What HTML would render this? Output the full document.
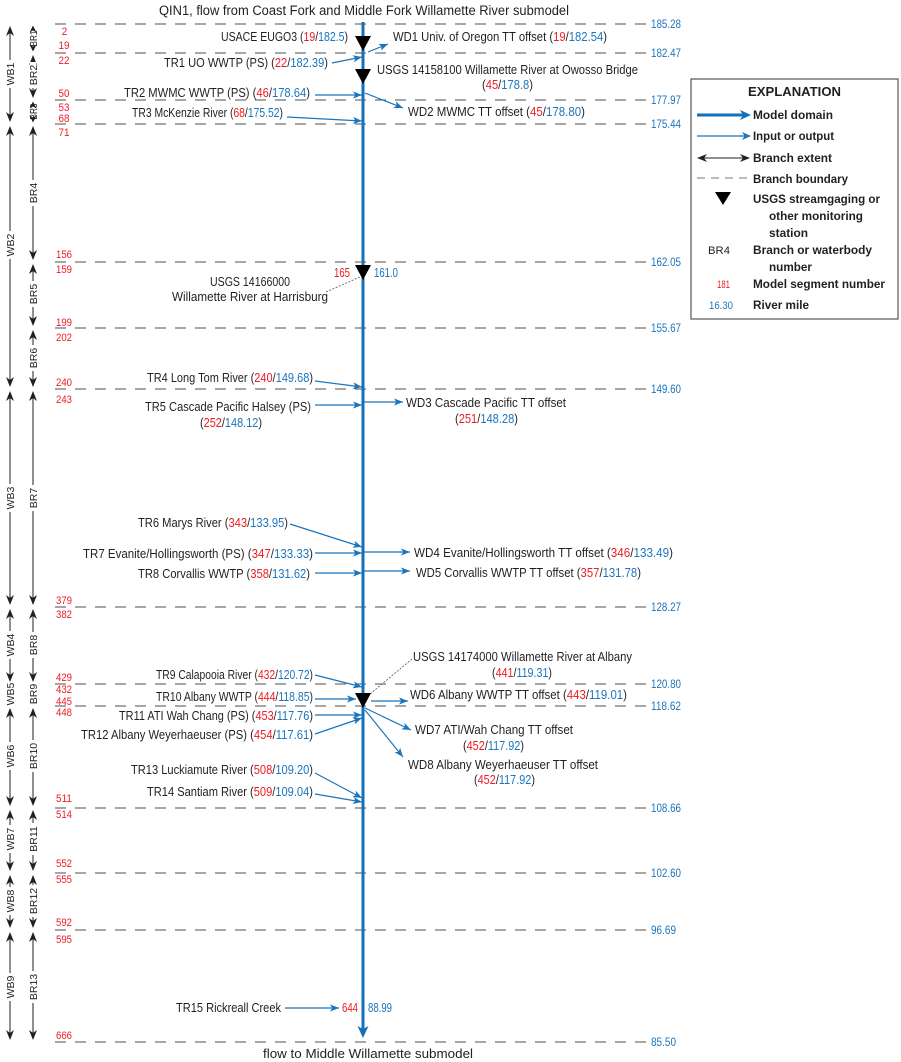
<!DOCTYPE html>
<html>
<head>
<meta charset="utf-8">
<style>
html,body{margin:0;padding:0;background:#fff;}
svg{display:block;}
text{font-family:"Liberation Sans",Arial,sans-serif;fill:#231f20;}
.t{font-size:12.5px;}
.n{font-size:11px;}
.n text, text.n{fill:#ed1c24;}
.m{font-size:11.5px;}
.m text, text.m{fill:#1b75bc;}
.r, text.r{fill:#ed1c24;}
.b, text.b{fill:#1b75bc;}
.lb{font-size:10.5px;}
.bold{font-weight:bold;font-size:12px;}
.dash{stroke:#4d4d4d;stroke-width:1;stroke-dasharray:11 9;}
.ba{stroke:#231f20;stroke-width:1;}
.ia{stroke:#1b75bc;stroke-width:1.2;fill:none;}
</style>
</head>
<body>
<svg width="901" height="1062" viewBox="0 0 901 1062" xmlns="http://www.w3.org/2000/svg">
<defs>
  <polygon id="u" points="0,0 4,10 0,7 -4,10" fill="#231f20"/>
  <polygon id="d" points="0,0 4,-10 0,-7 -4,-10" fill="#231f20"/>
  <polygon id="us" points="0,0 3.5,7 0,5 -3.5,7" fill="#231f20"/>
  <polygon id="ds" points="0,0 3.5,-7 0,-5 -3.5,-7" fill="#231f20"/>
  <marker id="ab" viewBox="0 0 10 8" refX="10" refY="4" markerWidth="9" markerHeight="7.2" markerUnits="userSpaceOnUse" orient="auto">
    <path d="M0,0 L10,4 L0,8 L2.5,4 z" fill="#1b75bc"/>
  </marker>
</defs>
<rect width="901" height="1062" fill="#fff"/>

<!-- boundary dashed lines -->
<g class="dash">
  <line x1="55" y1="24" x2="646" y2="24"/>
  <line x1="55" y1="53" x2="646" y2="53"/>
  <line x1="55" y1="100" x2="646" y2="100"/>
  <line x1="55" y1="124" x2="646" y2="124"/>
  <line x1="55" y1="262" x2="646" y2="262"/>
  <line x1="55" y1="328" x2="646" y2="328"/>
  <line x1="55" y1="389" x2="646" y2="389"/>
  <line x1="55" y1="607" x2="646" y2="607"/>
  <line x1="55" y1="684" x2="646" y2="684"/>
  <line x1="55" y1="706" x2="646" y2="706"/>
  <line x1="55" y1="808" x2="646" y2="808"/>
  <line x1="55" y1="873" x2="646" y2="873"/>
  <line x1="55" y1="930" x2="646" y2="930"/>
  <line x1="55" y1="1042" x2="646" y2="1042"/>
</g>

<!-- river mile labels -->
<g class="m">
  <text x="651" y="28" textLength="30" lengthAdjust="spacingAndGlyphs">185.28</text>
  <text x="651" y="57" textLength="30" lengthAdjust="spacingAndGlyphs">182.47</text>
  <text x="651" y="104" textLength="30" lengthAdjust="spacingAndGlyphs">177.97</text>
  <text x="651" y="128" textLength="30" lengthAdjust="spacingAndGlyphs">175.44</text>
  <text x="651" y="266" textLength="30" lengthAdjust="spacingAndGlyphs">162.05</text>
  <text x="651" y="332" textLength="30" lengthAdjust="spacingAndGlyphs">155.67</text>
  <text x="651" y="393" textLength="30" lengthAdjust="spacingAndGlyphs">149.60</text>
  <text x="651" y="611" textLength="30" lengthAdjust="spacingAndGlyphs">128.27</text>
  <text x="651" y="688" textLength="30" lengthAdjust="spacingAndGlyphs">120.80</text>
  <text x="651" y="710" textLength="30" lengthAdjust="spacingAndGlyphs">118.62</text>
  <text x="651" y="812" textLength="30" lengthAdjust="spacingAndGlyphs">108.66</text>
  <text x="651" y="877" textLength="30" lengthAdjust="spacingAndGlyphs">102.60</text>
  <text x="651" y="934" textLength="25" lengthAdjust="spacingAndGlyphs">96.69</text>
  <text x="651" y="1046" textLength="25" lengthAdjust="spacingAndGlyphs">85.50</text>
</g>

<!-- segment numbers -->
<g class="n" text-anchor="middle">
  <text x="64.5" y="35" textLength="5.5" lengthAdjust="spacingAndGlyphs">2</text>
  <text x="64" y="49" textLength="11" lengthAdjust="spacingAndGlyphs">19</text>
  <text x="64" y="64" textLength="11" lengthAdjust="spacingAndGlyphs">22</text>
  <text x="64" y="97" textLength="11" lengthAdjust="spacingAndGlyphs">50</text>
  <text x="64" y="111" textLength="11" lengthAdjust="spacingAndGlyphs">53</text>
  <text x="64" y="122" textLength="11" lengthAdjust="spacingAndGlyphs">68</text>
  <text x="64" y="136" textLength="11" lengthAdjust="spacingAndGlyphs">71</text>
  <text x="64" y="258" textLength="16" lengthAdjust="spacingAndGlyphs">156</text>
  <text x="64" y="273" textLength="16" lengthAdjust="spacingAndGlyphs">159</text>
  <text x="64" y="326" textLength="16" lengthAdjust="spacingAndGlyphs">199</text>
  <text x="64" y="341" textLength="16" lengthAdjust="spacingAndGlyphs">202</text>
  <text x="64" y="386" textLength="16" lengthAdjust="spacingAndGlyphs">240</text>
  <text x="64" y="403" textLength="16" lengthAdjust="spacingAndGlyphs">243</text>
  <text x="64" y="604" textLength="16" lengthAdjust="spacingAndGlyphs">379</text>
  <text x="64" y="618" textLength="16" lengthAdjust="spacingAndGlyphs">382</text>
  <text x="64" y="681" textLength="16" lengthAdjust="spacingAndGlyphs">429</text>
  <text x="64" y="693" textLength="16" lengthAdjust="spacingAndGlyphs">432</text>
  <text x="64" y="705" textLength="16" lengthAdjust="spacingAndGlyphs">445</text>
  <text x="64" y="716" textLength="16" lengthAdjust="spacingAndGlyphs">448</text>
  <text x="64" y="802" textLength="16" lengthAdjust="spacingAndGlyphs">511</text>
  <text x="64" y="818" textLength="16" lengthAdjust="spacingAndGlyphs">514</text>
  <text x="64" y="867" textLength="16" lengthAdjust="spacingAndGlyphs">552</text>
  <text x="64" y="883" textLength="16" lengthAdjust="spacingAndGlyphs">555</text>
  <text x="64" y="926" textLength="16" lengthAdjust="spacingAndGlyphs">592</text>
  <text x="64" y="943" textLength="16" lengthAdjust="spacingAndGlyphs">595</text>
  <text x="64" y="1039" textLength="16" lengthAdjust="spacingAndGlyphs">666</text>
</g>

<!-- branch / waterbody extents -->
<g class="ba">
  <line x1="10" y1="27" x2="10" y2="121"/>
  <line x1="10" y1="127" x2="10" y2="386"/>
  <line x1="10" y1="392" x2="10" y2="604"/>
  <line x1="10" y1="610" x2="10" y2="681"/>
  <line x1="10" y1="709" x2="10" y2="805"/>
  <line x1="10" y1="811" x2="10" y2="870"/>
  <line x1="10" y1="876" x2="10" y2="927"/>
  <line x1="10" y1="933" x2="10" y2="1039"/>
  <line x1="33" y1="27" x2="33" y2="50"/>
  <line x1="33" y1="56" x2="33" y2="97"/>
  <line x1="33" y1="103" x2="33" y2="121"/>
  <line x1="33" y1="127" x2="33" y2="259"/>
  <line x1="33" y1="265" x2="33" y2="325"/>
  <line x1="33" y1="331" x2="33" y2="386"/>
  <line x1="33" y1="392" x2="33" y2="604"/>
  <line x1="33" y1="610" x2="33" y2="681"/>
  <line x1="33" y1="709" x2="33" y2="805"/>
  <line x1="33" y1="811" x2="33" y2="870"/>
  <line x1="33" y1="876" x2="33" y2="927"/>
  <line x1="33" y1="933" x2="33" y2="1039"/>
</g>
<!-- arrowheads -->
<g>
  <use href="#u" x="10" y="26"/><use href="#d" x="10" y="122"/>
  <use href="#u" x="10" y="126"/><use href="#d" x="10" y="387"/>
  <use href="#u" x="10" y="391"/><use href="#d" x="10" y="605"/>
  <use href="#u" x="10" y="609"/><use href="#d" x="10" y="682"/>
  <use href="#u" x="10" y="708"/><use href="#d" x="10" y="806"/>
  <use href="#u" x="10" y="810"/><use href="#d" x="10" y="871"/>
  <use href="#u" x="10" y="875"/><use href="#d" x="10" y="928"/>
  <use href="#u" x="10" y="932"/><use href="#d" x="10" y="1040"/>
  <use href="#u" x="33" y="55"/><use href="#d" x="33" y="98"/>
  <use href="#u" x="33" y="126"/><use href="#d" x="33" y="260"/>
  <use href="#u" x="33" y="264"/><use href="#d" x="33" y="326"/>
  <use href="#u" x="33" y="330"/><use href="#d" x="33" y="387"/>
  <use href="#u" x="33" y="391"/><use href="#d" x="33" y="605"/>
  <use href="#u" x="33" y="609"/><use href="#d" x="33" y="682"/>
  <use href="#u" x="33" y="708"/><use href="#d" x="33" y="806"/>
  <use href="#u" x="33" y="810"/><use href="#d" x="33" y="871"/>
  <use href="#u" x="33" y="875"/><use href="#d" x="33" y="928"/>
  <use href="#u" x="33" y="932"/><use href="#d" x="33" y="1040"/>
</g>
<!-- label gaps -->
<g fill="#fff">
  <rect x="7" y="60" width="6" height="28"/>
  <rect x="7" y="231" width="6" height="28"/>
  <rect x="7" y="484" width="6" height="28"/>
  <rect x="7" y="631" width="6" height="28"/>
  <rect x="7" y="742" width="6" height="28"/>
  <rect x="7" y="825" width="6" height="28"/>
  <rect x="7" y="887" width="6" height="28"/>
  <rect x="7" y="973" width="6" height="28"/>
  <rect x="29" y="29.5" width="8" height="18"/>
  <rect x="30" y="62" width="6" height="26"/>
  <rect x="29" y="103" width="8" height="17"/>
  <rect x="30" y="180" width="6" height="26"/>
  <rect x="30" y="281" width="6" height="26"/>
  <rect x="30" y="345" width="6" height="26"/>
  <rect x="30" y="485" width="6" height="26"/>
  <rect x="30" y="632" width="6" height="26"/>
  <rect x="30" y="740" width="6" height="32"/>
  <rect x="30" y="823" width="6" height="32"/>
  <rect x="30" y="885" width="6" height="32"/>
  <rect x="30" y="971" width="6" height="32"/>
</g>
<g class="lb" text-anchor="middle">
  <text transform="translate(14,74) rotate(-90)">WB1</text>
  <text transform="translate(14,245) rotate(-90)">WB2</text>
  <text transform="translate(14,498) rotate(-90)">WB3</text>
  <text transform="translate(14,645) rotate(-90)">WB4</text>
  <text transform="translate(14,694) rotate(-90)">WB5</text>
  <text transform="translate(14,756) rotate(-90)">WB6</text>
  <text transform="translate(14,839) rotate(-90)">WB7</text>
  <text transform="translate(14,901) rotate(-90)">WB8</text>
  <text transform="translate(14,987) rotate(-90)">WB9</text>
  <text transform="translate(37,38.5) rotate(-90)" textLength="16" lengthAdjust="spacingAndGlyphs">BR1</text>
  <text transform="translate(37,75) rotate(-90)">BR2</text>
  <text transform="translate(37,111.5) rotate(-90)" textLength="16" lengthAdjust="spacingAndGlyphs">BR3</text>
  <text transform="translate(37,193) rotate(-90)">BR4</text>
  <text transform="translate(37,294) rotate(-90)">BR5</text>
  <text transform="translate(37,358) rotate(-90)">BR6</text>
  <text transform="translate(37,498) rotate(-90)">BR7</text>
  <text transform="translate(37,645) rotate(-90)">BR8</text>
  <text transform="translate(37,694) rotate(-90)">BR9</text>
  <text transform="translate(37,756) rotate(-90)">BR10</text>
  <text transform="translate(37,839) rotate(-90)">BR11</text>
  <text transform="translate(37,901) rotate(-90)">BR12</text>
  <text transform="translate(37,987) rotate(-90)">BR13</text>
</g>
<!-- small arrowheads for short branches (on top) -->
<g>
  <use href="#us" x="33" y="25.5"/><use href="#ds" x="33" y="51.5"/>
  <use href="#us" x="33" y="101.5"/><use href="#ds" x="33" y="122.5"/>
</g>

<!-- input/output arrows -->
<g class="ia" marker-end="url(#ab)">
  <line x1="368" y1="52" x2="388" y2="44"/>
  <line x1="332" y1="63" x2="362" y2="57"/>
  <line x1="315" y1="95" x2="362" y2="95"/>
  <line x1="365" y1="93" x2="403" y2="108"/>
  <line x1="287" y1="117" x2="362" y2="121"/>
  <line x1="315" y1="381" x2="362" y2="387"/>
  <line x1="315" y1="405" x2="362" y2="405"/>
  <line x1="364" y1="402" x2="403" y2="402"/>
  <line x1="290" y1="524" x2="362" y2="547"/>
  <line x1="315" y1="553" x2="362" y2="553"/>
  <line x1="364" y1="552" x2="410" y2="552"/>
  <line x1="315" y1="573" x2="362" y2="573"/>
  <line x1="364" y1="571" x2="410" y2="571"/>
  <line x1="315" y1="675" x2="362" y2="687"/>
  <line x1="315" y1="699" x2="356" y2="699"/>
  <line x1="371" y1="701" x2="408" y2="701"/>
  <line x1="315" y1="715" x2="362" y2="715"/>
  <line x1="315" y1="734" x2="362" y2="718"/>
  <line x1="365" y1="708" x2="411" y2="730"/>
  <line x1="365" y1="710" x2="403" y2="757"/>
  <line x1="315" y1="773" x2="362" y2="798"/>
  <line x1="315" y1="794" x2="362" y2="802"/>
  <line x1="285" y1="1008" x2="339" y2="1008"/>
</g>

<!-- leaders -->
<g stroke="#555" stroke-width="0.8" stroke-dasharray="2 1.5" fill="none">
  <line x1="326" y1="292" x2="360" y2="277"/>
  <line x1="412" y1="659" x2="370" y2="694"/>
</g>

<!-- main river -->
<line x1="363" y1="22" x2="363" y2="1030" stroke="#1470b8" stroke-width="3"/>
<polygon points="357.5,1026 363,1029 368.5,1026 363,1038" fill="#1470b8"/>

<!-- gauges -->
<g fill="#000">
  <polygon points="355,36 371,36 363,51"/>
  <polygon points="355,69 371,69 363,84"/>
  <polygon points="355,265 371,265 363,280"/>
  <polygon points="355,693 371,693 363,708"/>
</g>

<!-- labels -->
<g class="t">
  <text x="159" y="15" style="font-size:13.5px" textLength="410" lengthAdjust="spacingAndGlyphs">QIN1, flow from Coast Fork and Middle Fork Willamette River submodel</text>
  <text x="221" y="41" textLength="127" lengthAdjust="spacingAndGlyphs">USACE EUGO3 (<tspan class="r">19</tspan>/<tspan class="b">182.5</tspan>)</text>
  <text x="393" y="41" textLength="214" lengthAdjust="spacingAndGlyphs">WD1 Univ. of Oregon TT offset (<tspan class="r">19</tspan>/<tspan class="b">182.54</tspan>)</text>
  <text x="164" y="67" textLength="164" lengthAdjust="spacingAndGlyphs">TR1 UO WWTP (PS)  (<tspan class="r">22</tspan>/<tspan class="b">182.39</tspan>)</text>
  <text x="377" y="74" textLength="261" lengthAdjust="spacingAndGlyphs">USGS 14158100 Willamette River at Owosso Bridge</text>
  <text x="482" y="89" textLength="51" lengthAdjust="spacingAndGlyphs">(<tspan class="r">45</tspan>/<tspan class="b">178.8</tspan>)</text>
  <text x="124" y="97" textLength="186" lengthAdjust="spacingAndGlyphs">TR2 MWMC WWTP (PS) (<tspan class="r">46</tspan>/<tspan class="b">178.64</tspan>)</text>
  <text x="408" y="116" textLength="177" lengthAdjust="spacingAndGlyphs">WD2 MWMC TT offset (<tspan class="r">45</tspan>/<tspan class="b">178.80</tspan>)</text>
  <text x="132" y="117" textLength="151" lengthAdjust="spacingAndGlyphs">TR3 McKenzie River (<tspan class="r">68</tspan>/<tspan class="b">175.52</tspan>)</text>
  <text x="334" y="277" class="r" textLength="16" lengthAdjust="spacingAndGlyphs">165</text>
  <text x="374" y="277" class="b" textLength="24" lengthAdjust="spacingAndGlyphs">161.0</text>
  <text x="210" y="286" textLength="80" lengthAdjust="spacingAndGlyphs">USGS 14166000</text>
  <text x="172" y="301" textLength="156" lengthAdjust="spacingAndGlyphs">Willamette River at Harrisburg</text>
  <text x="147" y="382" textLength="166" lengthAdjust="spacingAndGlyphs">TR4 Long Tom River (<tspan class="r">240</tspan>/<tspan class="b">149.68</tspan>)</text>
  <text x="145" y="411" textLength="166" lengthAdjust="spacingAndGlyphs">TR5 Cascade Pacific Halsey (PS)</text>
  <text x="200" y="427" textLength="62" lengthAdjust="spacingAndGlyphs">(<tspan class="r">252</tspan>/<tspan class="b">148.12</tspan>)</text>
  <text x="406" y="407" textLength="160" lengthAdjust="spacingAndGlyphs">WD3 Cascade Pacific TT offset</text>
  <text x="455" y="423" textLength="63" lengthAdjust="spacingAndGlyphs">(<tspan class="r">251</tspan>/<tspan class="b">148.28</tspan>)</text>
  <text x="138" y="527" textLength="150" lengthAdjust="spacingAndGlyphs">TR6 Marys River (<tspan class="r">343</tspan>/<tspan class="b">133.95</tspan>)</text>
  <text x="83" y="558" textLength="230" lengthAdjust="spacingAndGlyphs">TR7 Evanite/Hollingsworth (PS)  (<tspan class="r">347</tspan>/<tspan class="b">133.33</tspan>)</text>
  <text x="138" y="578" textLength="172" lengthAdjust="spacingAndGlyphs">TR8 Corvallis WWTP (<tspan class="r">358</tspan>/<tspan class="b">131.62</tspan>)</text>
  <text x="414" y="557" textLength="259" lengthAdjust="spacingAndGlyphs">WD4 Evanite/Hollingsworth TT offset (<tspan class="r">346</tspan>/<tspan class="b">133.49</tspan>)</text>
  <text x="416" y="577" textLength="225" lengthAdjust="spacingAndGlyphs">WD5 Corvallis WWTP TT offset (<tspan class="r">357</tspan>/<tspan class="b">131.78</tspan>)</text>
  <text x="413" y="661" textLength="219" lengthAdjust="spacingAndGlyphs">USGS 14174000 Willamette River at Albany</text>
  <text x="492" y="677" textLength="60" lengthAdjust="spacingAndGlyphs">(<tspan class="r">441</tspan>/<tspan class="b">119.31</tspan>)</text>
  <text x="156" y="679" textLength="157" lengthAdjust="spacingAndGlyphs">TR9 Calapooia River (<tspan class="r">432</tspan>/<tspan class="b">120.72</tspan>)</text>
  <text x="156" y="701" textLength="157" lengthAdjust="spacingAndGlyphs">TR10 Albany WWTP (<tspan class="r">444</tspan>/<tspan class="b">118.85</tspan>)</text>
  <text x="410" y="699" textLength="217" lengthAdjust="spacingAndGlyphs">WD6 Albany WWTP TT offset (<tspan class="r">443</tspan>/<tspan class="b">119.01</tspan>)</text>
  <text x="119" y="720" textLength="194" lengthAdjust="spacingAndGlyphs">TR11 ATI Wah Chang (PS) (<tspan class="r">453</tspan>/<tspan class="b">117.76</tspan>)</text>
  <text x="81" y="739" textLength="232" lengthAdjust="spacingAndGlyphs">TR12 Albany Weyerhaeuser (PS)  (<tspan class="r">454</tspan>/<tspan class="b">117.61</tspan>)</text>
  <text x="415" y="734" textLength="158" lengthAdjust="spacingAndGlyphs">WD7 ATI/Wah Chang TT offset</text>
  <text x="463" y="750" textLength="61" lengthAdjust="spacingAndGlyphs">(<tspan class="r">452</tspan>/<tspan class="b">117.92</tspan>)</text>
  <text x="408" y="769" textLength="190" lengthAdjust="spacingAndGlyphs">WD8 Albany Weyerhaeuser TT offset</text>
  <text x="474" y="784" textLength="61" lengthAdjust="spacingAndGlyphs">(<tspan class="r">452</tspan>/<tspan class="b">117.92</tspan>)</text>
  <text x="131" y="774" textLength="182" lengthAdjust="spacingAndGlyphs">TR13 Luckiamute River (<tspan class="r">508</tspan>/<tspan class="b">109.20</tspan>)</text>
  <text x="147" y="796" textLength="166" lengthAdjust="spacingAndGlyphs">TR14 Santiam River (<tspan class="r">509</tspan>/<tspan class="b">109.04</tspan>)</text>
  <text x="176" y="1012" textLength="105" lengthAdjust="spacingAndGlyphs">TR15 Rickreall Creek</text>
  <text x="342" y="1012" class="r" textLength="16" lengthAdjust="spacingAndGlyphs">644</text>
  <text x="368" y="1012" class="b" textLength="24" lengthAdjust="spacingAndGlyphs">88.99</text>
  <text x="263" y="1058" style="font-size:13px" textLength="210" lengthAdjust="spacingAndGlyphs">flow to Middle Willamette submodel</text>
</g>

<!-- legend -->
<rect x="691" y="79" width="207" height="240" fill="#fff" stroke="#555" stroke-width="1.2"/>
<text x="748" y="96" style="font-weight:bold;font-size:13px" textLength="93" lengthAdjust="spacingAndGlyphs">EXPLANATION</text>
<line x1="697" y1="115" x2="743" y2="115" stroke="#1470b8" stroke-width="3"/>
<polygon points="751,115 740,110 743,115 740,120" fill="#1470b8"/>
<line x1="697" y1="136" x2="745" y2="136" stroke="#1b75bc" stroke-width="1.2"/>
<polygon points="751,136 742,132 744.5,136 742,140" fill="#1b75bc"/>
<line x1="700" y1="158" x2="747" y2="158" stroke="#231f20" stroke-width="1"/>
<polygon points="697,158 707,154 704,158 707,162" fill="#231f20"/>
<polygon points="750,158 740,154 743,158 740,162" fill="#231f20"/>
<line x1="697" y1="178" x2="748" y2="178" stroke="#777" stroke-width="1" stroke-dasharray="8 6"/>
<polygon points="715,192 731,192 723,205" fill="#000"/>
<g class="bold">
  <text x="753" y="119" textLength="80" lengthAdjust="spacingAndGlyphs">Model domain</text>
  <text x="753" y="140" textLength="81" lengthAdjust="spacingAndGlyphs">Input or output</text>
  <text x="753" y="162" textLength="79" lengthAdjust="spacingAndGlyphs">Branch extent</text>
  <text x="753" y="183" textLength="95" lengthAdjust="spacingAndGlyphs">Branch boundary</text>
  <text x="753" y="203" textLength="127" lengthAdjust="spacingAndGlyphs">USGS streamgaging or</text>
  <text x="769" y="220" textLength="94" lengthAdjust="spacingAndGlyphs">other monitoring</text>
  <text x="769" y="237" textLength="39" lengthAdjust="spacingAndGlyphs">station</text>
  <text x="753" y="254" textLength="119" lengthAdjust="spacingAndGlyphs">Branch or waterbody</text>
  <text x="769" y="271" textLength="43" lengthAdjust="spacingAndGlyphs">number</text>
  <text x="753" y="288" textLength="132" lengthAdjust="spacingAndGlyphs">Model segment number</text>
  <text x="753" y="309" textLength="56" lengthAdjust="spacingAndGlyphs">River mile</text>
</g>
<text x="708" y="254" style="font-size:11px" textLength="22" lengthAdjust="spacingAndGlyphs">BR4</text>
<text x="717" y="288" class="r" style="font-size:11px" textLength="13" lengthAdjust="spacingAndGlyphs">181</text>
<text x="709" y="309" class="b" style="font-size:11px" textLength="24" lengthAdjust="spacingAndGlyphs">16.30</text>
</svg>
</body>
</html>
